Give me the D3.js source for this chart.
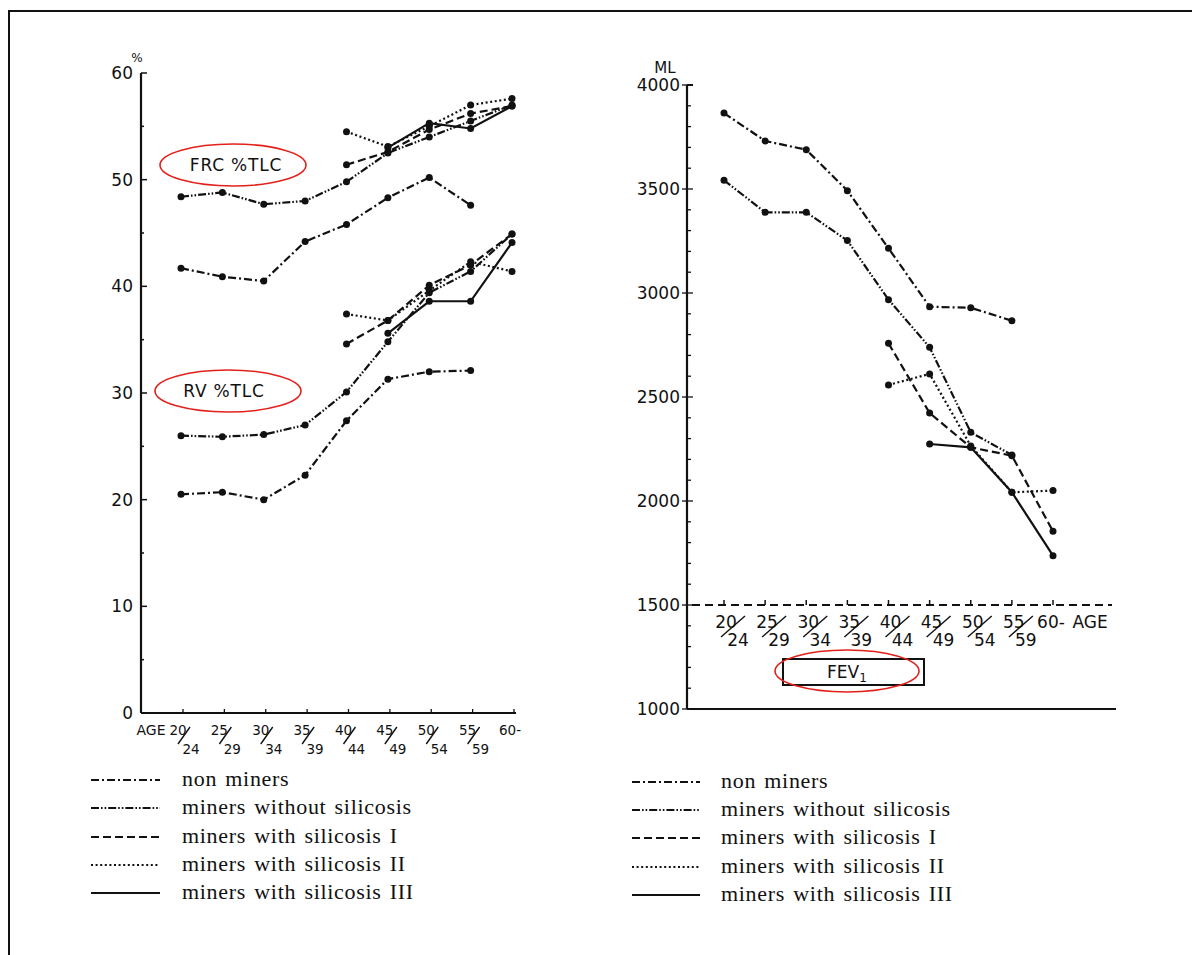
<!DOCTYPE html>
<html>
<head>
<meta charset="utf-8">
<script src="https://cdn.jsdelivr.net/npm/d3@7"></script>
<style>
  body { margin: 0; background: #fff; }
  svg { display: block; }
  .tick-label { font-family: "DejaVu Sans", sans-serif; fill: #111; }
  .legend-text { font-family: "Liberation Serif", serif; font-size: 22px; letter-spacing: 0.7px; word-spacing: 2px; fill: #111; }
</style>
</head>
<body>
<script>
// age groups
var ageTop = ['20', '25', '30', '35', '40', '45', '50', '55', '60-'];
var ageBottom = ['24', '29', '34', '39', '44', '49', '54', '59', ''];
var groups = ['non miners', 'miners without silicosis', 'miners with silicosis I',
              'miners with silicosis II', 'miners with silicosis III'];

// FRC % TLC (left chart, upper bundle)
var frcNonMiners   = [41.7, 40.9, 40.5, 44.2, 45.8, 48.3, 50.2, 47.6, null];
var frcMinersNoSil = [48.4, 48.8, 47.7, 48.0, 49.8, 52.5, 54.0, 55.5, 57.0];
var frcSilI        = [null, null, null, null, 51.4, 52.6, 54.7, 56.2, 56.9];
var frcSilII       = [null, null, null, null, 54.5, 53.1, 55.0, 57.0, 57.6];
var frcSilIII      = [null, null, null, null, null, 53.0, 55.3, 54.8, 56.9];

// RV % TLC (left chart, lower bundle)
var rvNonMiners    = [20.5, 20.7, 20.0, 22.3, 27.4, 31.3, 32.0, 32.1, null];
var rvMinersNoSil  = [26.0, 25.9, 26.1, 27.0, 30.1, 34.8, 39.4, 41.4, 44.9];
var rvSilI         = [null, null, null, null, 34.6, 36.8, 40.1, 42.0, 44.9];
var rvSilII        = [null, null, null, null, 37.4, 36.8, 39.6, 42.3, 41.4];
var rvSilIII       = [null, null, null, null, null, 35.6, 38.6, 38.6, 44.1];

// FEV1 in ml (right chart)
var fevNonMiners   = [3865, 3731, 3689, 3492, 3215, 2934, 2929, 2867, null];
var fevMinersNoSil = [3542, 3388, 3388, 3252, 2968, 2739, 2330, 2221, null];
var fevSilI        = [null, null, null, null, 2758, 2423, 2258, 2218, 1854];
var fevSilII       = [null, null, null, null, 2558, 2611, 2265, 2042, 2050];
var fevSilIII      = [null, null, null, null, null, 2274, 2258, 2042, 1737];

var leftTicks = [0, 10, 20, 30, 40, 50, 60];
var rightTicks = [1000, 1500, 2000, 2500, 3000, 3500, 4000];

// line styles per group
var dashes = ['8,3,2,3', '8,2,1.6,2,1.6,2', '8,4', '2,2.6', null];

var w = 1192, h = 955;
var svg = d3.select('body').append('svg')
    .attr('width', w)
    .attr('height', h);

// frame (only top and left edges show)
svg.append('path')
    .attr('d', 'M9,955 L9,11 L1192,11')
    .attr('fill', 'none')
    .attr('stroke', '#111')
    .attr('stroke-width', 2);

// ---------- left chart ----------
var xL = d3.scalePoint().domain(d3.range(9)).range([181, 512]);
var yL = d3.scaleLinear().domain([0, 60]).range([713, 73]);

var left = svg.append('g');
left.append('line')
    .attr('x1', 141).attr('x2', 141)
    .attr('y1', yL(60)).attr('y2', yL(0))
    .attr('stroke', '#111').attr('stroke-width', 2.2);
left.append('line')
    .attr('x1', 141).attr('x2', 516)
    .attr('y1', yL(0)).attr('y2', yL(0))
    .attr('stroke', '#111').attr('stroke-width', 2.2);

left.selectAll('.ytick')
    .data(d3.range(0, 61, 5))
    .enter().append('line')
    .attr('x1', 141)
    .attr('x2', function(d) { return d % 10 == 0 ? 147 : 144; })
    .attr('y1', function(d) { return yL(d); })
    .attr('y2', function(d) { return yL(d); })
    .attr('stroke', '#111').attr('stroke-width', 1.5);

left.selectAll('.ylabel')
    .data(leftTicks)
    .enter().append('text')
    .attr('class', 'tick-label')
    .attr('x', 133)
    .attr('y', function(d) { return yL(d); })
    .attr('dy', '0.36em')
    .attr('text-anchor', 'end')
    .style('font-size', '17px')
    .text(function(d) { return d; });

left.append('text')
    .attr('class', 'tick-label')
    .attr('x', 137).attr('y', 62)
    .attr('text-anchor', 'middle')
    .style('font-size', '12px')
    .text('%');

left.selectAll('.xtick')
    .data(d3.range(9))
    .enter().append('line')
    .attr('x1', function(d) { return xL(d) + 2; })
    .attr('x2', function(d) { return xL(d) + 2; })
    .attr('y1', yL(0)).attr('y2', yL(0) - 4)
    .attr('stroke', '#111').attr('stroke-width', 1.3);

left.append('text')
    .attr('class', 'tick-label')
    .attr('x', 151).attr('y', 735)
    .attr('text-anchor', 'middle')
    .style('font-size', '14px')
    .text('AGE');

ageLabels(left, xL, 735, 754, -3, 10, 13.5, -2, function(c) {
    return 'M' + (c + 9) + ',727 L' + (c - 3) + ',744';
});

drawSeries(left, xL, yL, [frcNonMiners, frcMinersNoSil, frcSilI, frcSilII, frcSilIII]);
drawSeries(left, xL, yL, [rvNonMiners, rvMinersNoSil, rvSilI, rvSilII, rvSilIII]);

noteEllipse(left, 233, 165, 73, 21, 'FRC %TLC', 236, 171);
noteEllipse(left, 228, 391, 73, 21, 'RV %TLC', 224, 397);

// ---------- right chart ----------
var xR = d3.scalePoint().domain(d3.range(9)).range([724, 1053]);
var yR = d3.scaleLinear().domain([1000, 4000]).range([709, 85]);

var right = svg.append('g');
right.append('line')
    .attr('x1', 687).attr('x2', 687)
    .attr('y1', yR(4000)).attr('y2', yR(1000))
    .attr('stroke', '#111').attr('stroke-width', 2.2);
right.append('line')
    .attr('x1', 687).attr('x2', 1116)
    .attr('y1', yR(1000)).attr('y2', yR(1000))
    .attr('stroke', '#111').attr('stroke-width', 2.2);
right.append('line')
    .attr('x1', 687).attr('x2', 693)
    .attr('y1', yR(4000)).attr('y2', yR(4000))
    .attr('stroke', '#111').attr('stroke-width', 2);

right.selectAll('.ytick')
    .data(d3.range(1000, 4001, 100))
    .enter().append('line')
    .attr('x1', function(d) { return d % 500 == 0 ? 682 : 687; })
    .attr('x2', function(d) { return d % 500 == 0 ? 693 : 691; })
    .attr('y1', function(d) { return yR(d); })
    .attr('y2', function(d) { return yR(d); })
    .attr('stroke', '#111').attr('stroke-width', 1.3);

right.selectAll('.ylabel')
    .data(rightTicks)
    .enter().append('text')
    .attr('class', 'tick-label')
    .attr('x', 680)
    .attr('y', function(d) { return yR(d); })
    .attr('dy', '0.36em')
    .attr('text-anchor', 'end')
    .style('font-size', '17px')
    .text(function(d) { return d; });

right.append('text')
    .attr('class', 'tick-label')
    .attr('x', 665).attr('y', 73)
    .attr('text-anchor', 'middle')
    .style('font-size', '15px')
    .text('ML');

// dashed baseline at 1500
right.append('line')
    .attr('x1', 692).attr('x2', 1112)
    .attr('y1', yR(1500)).attr('y2', yR(1500))
    .attr('stroke', '#111').attr('stroke-width', 2)
    .attr('stroke-dasharray', '8,5');

right.selectAll('.xtick')
    .data(d3.range(9))
    .enter().append('line')
    .attr('x1', function(d) { return xR(d); })
    .attr('x2', function(d) { return xR(d); })
    .attr('y1', yR(1500)).attr('y2', yR(1500) - 5)
    .attr('stroke', '#111').attr('stroke-width', 1.5);

ageLabels(right, xR, 628, 646, 2, 14, 17, -2, function(c) {
    return 'M' + (c + 21) + ',616 L' + (c - 3) + ',637';
});

right.append('text')
    .attr('class', 'tick-label')
    .attr('x', 1090).attr('y', 628)
    .attr('text-anchor', 'middle')
    .style('font-size', '17px')
    .text('AGE');

right.append('rect')
    .attr('x', 783).attr('y', 659)
    .attr('width', 141).attr('height', 26)
    .attr('fill', 'none')
    .attr('stroke', '#111').attr('stroke-width', 2);

var fev = right.append('text')
    .attr('class', 'tick-label')
    .attr('x', 847).attr('y', 678)
    .attr('text-anchor', 'middle')
    .style('font-size', '17px');
fev.append('tspan').text('FEV');
fev.append('tspan').attr('dy', 4).style('font-size', '12px').text('1');

right.append('ellipse')
    .attr('cx', 847).attr('cy', 671)
    .attr('rx', 72).attr('ry', 21)
    .attr('fill', 'none')
    .attr('stroke', '#e3211c').attr('stroke-width', 1.6);

drawSeries(right, xR, yR, [fevNonMiners, fevMinersNoSil, fevSilI, fevSilII, fevSilIII]);

// ---------- legends ----------
legend(91, 160, 182, [780, 808, 837, 865, 893]);
legend(632, 700, 721, [782, 810, 838, 867, 895]);

function drawSeries(g, x, y, series) {
    var line = d3.line()
        .defined(function(d) { return d != null; })
        .x(function(d, i) { return x(i); })
        .y(function(d) { return y(d); });

    series.forEach(function(values, k) {
        g.append('path')
            .datum(values)
            .attr('d', line)
            .attr('fill', 'none')
            .attr('stroke', '#111')
            .attr('stroke-width', 2.2)
            .attr('stroke-dasharray', dashes[k]);

        g.selectAll(null)
            .data(values.map(function(v, i) { return {v: v, i: i}; })
                .filter(function(d) { return d.v != null; }))
            .enter().append('circle')
            .attr('cx', function(d) { return x(d.i); })
            .attr('cy', function(d) { return y(d.v); })
            .attr('r', 3.5)
            .attr('fill', '#111');
    });
}

function ageLabels(g, x, yTop, yBot, offTop, offBot, size, offLast, slash) {
    var idx = d3.range(9);
    g.selectAll(null)
        .data(idx)
        .enter().append('text')
        .attr('class', 'tick-label')
        .attr('x', function(d) { return d == 8 ? x(d) + offLast : x(d) + offTop; })
        .attr('y', yTop)
        .attr('text-anchor', 'middle')
        .style('font-size', size + 'px')
        .text(function(d) { return ageTop[d]; });
    g.selectAll(null)
        .data(idx.slice(0, 8))
        .enter().append('text')
        .attr('class', 'tick-label')
        .attr('x', function(d) { return x(d) + offBot; })
        .attr('y', yBot)
        .attr('text-anchor', 'middle')
        .style('font-size', size + 'px')
        .text(function(d) { return ageBottom[d]; });
    g.selectAll(null)
        .data(idx.slice(0, 8))
        .enter().append('path')
        .attr('d', function(d) { return slash(x(d)); })
        .attr('stroke', '#111')
        .attr('stroke-width', 1.4);
}

function noteEllipse(g, cx, cy, rx, ry, label, tx, ty) {
    g.append('text')
        .attr('class', 'tick-label')
        .attr('x', tx).attr('y', ty)
        .attr('text-anchor', 'middle')
        .style('font-size', '17px')
        .style('letter-spacing', '0.8px')
        .text(label);
    g.append('ellipse')
        .attr('cx', cx).attr('cy', cy)
        .attr('rx', rx).attr('ry', ry)
        .attr('fill', 'none')
        .attr('stroke', '#e3211c').attr('stroke-width', 1.6);
}

function legend(x0, x1, tx, rows) {
    var lg = svg.append('g');
    groups.forEach(function(name, k) {
        lg.append('line')
            .attr('x1', x0).attr('x2', x1)
            .attr('y1', rows[k]).attr('y2', rows[k])
            .attr('stroke', '#111')
            .attr('stroke-width', 2)
            .attr('stroke-dasharray', dashes[k]);
        lg.append('text')
            .attr('class', 'legend-text')
            .attr('x', tx).attr('y', rows[k] + 6)
            .text(name);
    });
}
</script>
</body>
</html>
